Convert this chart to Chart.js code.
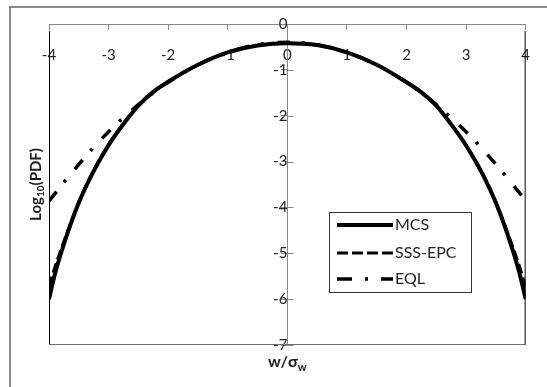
<!DOCTYPE html>
<html>
<head>
<meta charset="utf-8">
<script src="https://cdn.jsdelivr.net/npm/chart.js@4"></script>
<style>
html, body { margin: 0; padding: 0; background: #fff; }
#wrap { width: 547px; height: 387px; }
</style>
</head>
<body>
<div id="wrap"><canvas id="pdfChart" width="547" height="387"></canvas></div>
<script>
// w / sigma_w positions
const xValues = [-4, -3.9, -3.75, -3.5, -3.25, -3, -2.75, -2.5, -2.25, -2, -1.5, -1, -0.5, 0,
                 0.5, 1, 1.5, 2, 2.25, 2.5, 2.75, 3, 3.25, 3.5, 3.75, 3.9, 4];

// log10(PDF)
const mcs = [-6.0, -5.45, -4.8, -3.9, -3.21, -2.64, -2.18, -1.78, -1.48, -1.26, -0.89, -0.62, -0.47, -0.42,
             -0.46, -0.62, -0.89, -1.27, -1.49, -1.78, -2.19, -2.65, -3.21, -3.9, -4.8, -5.45, -6.0];
const sssEpc = [-5.72, -5.3, -4.74, -3.88, -3.19, -2.63, -2.17, -1.78, -1.48, -1.26, -0.89, -0.62, -0.47, -0.42,
                -0.46, -0.62, -0.89, -1.27, -1.49, -1.78, -2.18, -2.64, -3.19, -3.88, -4.74, -5.3, -5.74];
const eql = [-3.86, -3.70, -3.45, -3.06, -2.69, -2.35, -2.04, -1.76, -1.50, -1.27, -0.89, -0.62, -0.45, -0.40,
             -0.45, -0.62, -0.89, -1.27, -1.50, -1.76, -2.04, -2.35, -2.69, -3.06, -3.45, -3.69, -3.84];

const seriesNames = ['MCS', 'SSS-EPC', 'EQL'];

const FONT = 'Lato, "Open Sans", sans-serif';

function toPoints(ys) {
    return xValues.map((x, i) => ({ x: x, y: ys[i] }));
}

const extras = {
    id: 'extras',
    beforeDraw(chart) {
        const ctx = chart.ctx;
        ctx.save();
        ctx.fillStyle = '#fff';
        ctx.fillRect(0, 0, chart.width, chart.height);
        ctx.strokeStyle = '#8a8a8a';
        ctx.lineWidth = 2;
        ctx.strokeRect(10, 7, 600, 420);
        ctx.restore();
    },
    beforeDatasetsDraw(chart) {
        const ctx = chart.ctx;
        const a = chart.chartArea;
        const yScale = chart.scales.y;
        const xScale = chart.scales.x;
        ctx.save();
        // plot area border
        ctx.strokeStyle = '#000';
        ctx.lineWidth = 1;
        ctx.beginPath();
        ctx.moveTo(a.left + 0.5, a.top + 7);
        ctx.lineTo(a.left + 0.5, a.bottom);
        ctx.moveTo(a.right - 0.5, a.top + 7);
        ctx.lineTo(a.right - 0.5, a.bottom);
        ctx.stroke();
        ctx.strokeStyle = '#6e6e6e';
        ctx.beginPath();
        ctx.moveTo(a.left, a.bottom - 0.5);
        ctx.lineTo(a.right, a.bottom - 0.5);
        ctx.stroke();
        // right half of the y-axis tick marks
        const x0 = Math.round(xScale.getPixelForValue(0)) + 0.5;
        ctx.strokeStyle = '#888';
        ctx.beginPath();
        yScale.ticks.forEach(t => {
            const py = Math.round(yScale.getPixelForValue(t.value)) + 0.5;
            ctx.moveTo(x0, py);
            ctx.lineTo(x0 + 6, py);
        });
        ctx.stroke();
        ctx.restore();
    },
    afterDraw(chart) {
        const ctx = chart.ctx;
        const a = chart.chartArea;
        ctx.save();

        // y-axis title with subscript
        ctx.fillStyle = '#1a1a1a';
        ctx.translate(36, (a.top + a.bottom) / 2);
        ctx.rotate(-Math.PI / 2);
        const big = 'bold 15px ' + FONT;
        const small = 'bold 10px ' + FONT;
        ctx.font = big;
        const w1 = ctx.measureText('Log').width;
        const w3 = ctx.measureText('(PDF)').width;
        ctx.font = small;
        const w2 = ctx.measureText('10').width;
        let sx = -(w1 + w2 + w3) / 2;
        ctx.textBaseline = 'middle';
        ctx.textAlign = 'left';
        ctx.font = big;
        ctx.fillText('Log', sx, 0);
        ctx.font = small;
        ctx.fillText('10', sx + w1, 5);
        ctx.font = big;
        ctx.fillText('(PDF)', sx + w1 + w2, 0);
        ctx.restore();

        // x-axis title
        ctx.save();
        ctx.fillStyle = '#1a1a1a';
        ctx.textBaseline = 'middle';
        ctx.textAlign = 'left';
        ctx.font = 'bold 16px ' + FONT;
        const m1 = ctx.measureText('w/σ').width;
        ctx.font = 'bold 11px ' + FONT;
        const m2 = ctx.measureText('w').width;
        const cx = chart.scales.x.getPixelForValue(0);
        let tx = cx - (m1 + m2) / 2;
        ctx.font = 'bold 16px ' + FONT;
        ctx.fillText('w/σ', tx, 362);
        ctx.font = 'bold 11px ' + FONT;
        ctx.fillText('w', tx + m1, 367);
        ctx.restore();

        // legend
        ctx.save();
        const lx = 329, ly = 212, lw = 142, lh = 80;
        ctx.fillStyle = '#fff';
        ctx.fillRect(lx, ly, lw, lh);
        ctx.strokeStyle = '#333';
        ctx.lineWidth = 1;
        ctx.strokeRect(lx + 0.5, ly + 0.5, lw, lh);
        const rows = [225, 253, 279];
        chart.data.datasets.forEach((ds, i) => {
            ctx.strokeStyle = ds.borderColor;
            ctx.lineWidth = ds.borderWidth;
            ctx.setLineDash(ds.legendDash || ds.borderDash || []);
            ctx.beginPath();
            ctx.moveTo(337, rows[i]);
            ctx.lineTo(393, rows[i]);
            ctx.stroke();
            ctx.setLineDash([]);
            ctx.fillStyle = '#222';
            ctx.font = '16px ' + FONT;
            ctx.textBaseline = 'middle';
            ctx.textAlign = 'left';
            ctx.fillText(ds.label, 395, rows[i]);
        });
        ctx.restore();
    }
};

const tickFont = { family: FONT, size: 15 };

new Chart(document.getElementById('pdfChart').getContext('2d'), {
    type: 'line',
    data: {
        datasets: [{
            label: seriesNames[0],
            data: toPoints(mcs),
            borderColor: '#000',
            borderWidth: 4,
            borderDash: [],
            pointRadius: 0,
            fill: false,
            cubicInterpolationMode: 'monotone'
        }, {
            label: seriesNames[1],
            data: toPoints(sssEpc),
            borderColor: '#000',
            borderWidth: 3,
            borderDash: [10, 4],
            legendDash: [11, 4],
            pointRadius: 0,
            fill: false,
            cubicInterpolationMode: 'monotone'
        }, {
            label: seriesNames[2],
            data: toPoints(eql),
            borderColor: '#000',
            borderWidth: 3.5,
            borderDash: [12, 12, 3, 14],
            legendDash: [15, 13, 3, 13],
            pointRadius: 0,
            fill: false,
            cubicInterpolationMode: 'monotone'
        }]
    },
    options: {
        responsive: false,
        animation: false,
        layout: { padding: { left: 49, top: 22, right: 20, bottom: 42 } },
        scales: {
            x: {
                type: 'linear',
                min: -4,
                max: 4,
                position: { y: 0 },
                ticks: { stepSize: 1, padding: 17, color: '#222', font: tickFont, maxRotation: 0 },
                grid: { drawOnChartArea: false, tickLength: 5, color: '#888' },
                border: { color: '#888', width: 1 },
                afterFit(scale) { scale.height = 0; }
            },
            y: {
                type: 'linear',
                min: -7,
                max: 0,
                position: { x: 0 },
                ticks: { stepSize: 1, padding: 15, color: '#222', font: tickFont },
                grid: { drawOnChartArea: false, tickLength: 6, color: '#888' },
                border: { color: '#888', width: 1 },
                afterFit(scale) { scale.width = 0; }
            }
        },
        plugins: {
            legend: { display: false },
            tooltip: { enabled: false }
        }
    },
    plugins: [extras]
});
</script>
</body>
</html>
